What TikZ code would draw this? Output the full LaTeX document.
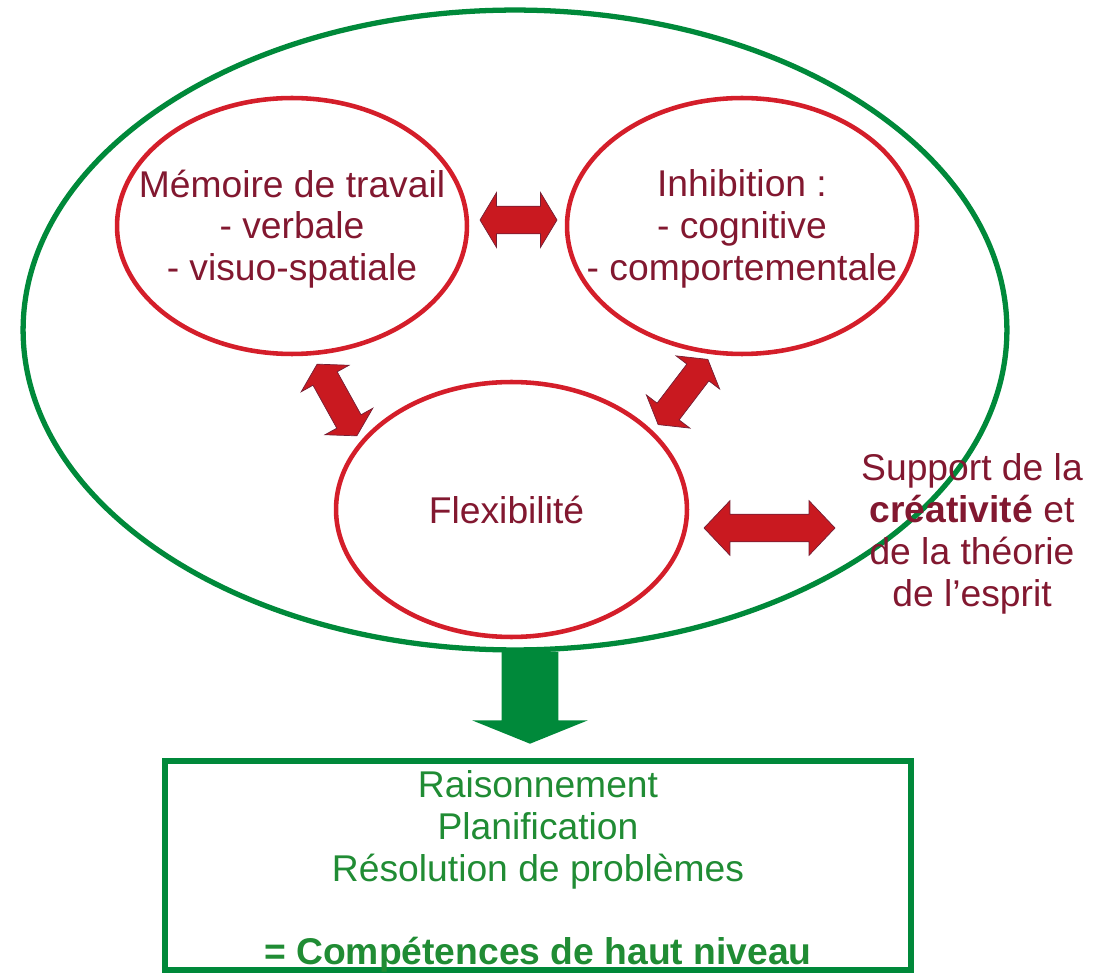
\documentclass[tikz,border=0pt]{standalone}
\usepackage{fontspec}
\setmainfont{Liberation Sans}
\usepackage{tikz}
\usetikzlibrary{calc,shapes.geometric,shapes.arrows}

\definecolor{ringred}{RGB}{212,30,42}
\definecolor{arrowred}{RGB}{201,25,32}
\definecolor{arrowedge}{RGB}{115,30,52}
\definecolor{textred}{RGB}{130,24,48}
\definecolor{ringgreen}{RGB}{0,137,58}
\definecolor{textgreen}{RGB}{32,140,52}

\begin{document}
\begin{tikzpicture}[x=0.02cm,y=-0.02cm,
    ring/.style={ellipse, draw=ringred, line width=2.6pt, inner sep=0pt, minimum width=7cm, minimum height=5.12cm},
    redtext/.style={text=textred, align=center, font=\fontsize{21.2}{23.8}\selectfont},
    greentext/.style={text=textgreen, align=center, font=\fontsize{21.2}{23.8}\selectfont},
    redarrow/.style={double arrow, fill=arrowred, draw=arrowedge, line width=0.4pt, inner xsep=0pt, inner ysep=0.27cm,
      double arrow head extend=0.27cm, double arrow head indent=0pt, double arrow tip angle=118, minimum width=0pt}]
  \useasboundingbox (0,0) rectangle (1110,973);

  %%arrow down to the box
  \node [single arrow, rotate=-90, fill=ringgreen, inner xsep=0pt, inner ysep=0.56cm, single arrow head extend=0.59cm,
    single arrow head indent=0pt, single arrow tip angle=136, minimum height=1.84cm, minimum width=0pt] (down) at (530,692) {};

  %%big ellipse
  \node [ellipse, draw=ringgreen, line width=3pt, inner sep=0pt, minimum width=19.68cm, minimum height=12.8cm] (fe) at (515,330) {};

  %%the three functions
  \node [ring] (mem) at (292,226) {};
  \node [ring] (inh) at (742,226) {};
  \node [ring, minimum width=7.02cm, minimum height=5.1cm] (flex) at (511.5,509.5) {};

  \node [redtext] (memtxt) at ($(mem)+(0,3)$) {Mémoire de travail\\- verbale\\- visuo-spatiale};
  \node [redtext] (inhtxt) at ($(inh)+(0,3)$) {Inhibition :\\- cognitive\\- comportementale};
  \node [redtext] (flextxt) at ($(flex)+(-5,0)$) {Flexibilité};
  \node [redtext] (support) at (972,534) {Support de la\\\textbf{créativité} et\\de la théorie\\de l’esprit};

  %%red arrows
  \node [redarrow, minimum height=1.54cm] (meminh) at (518.5,220) {};
  \node [redarrow, minimum height=1.64cm, rotate=-61] (memflex) at (337,400) {};
  \node [redarrow, minimum height=1.64cm, rotate=52.7] (inhflex) at (683,392) {};
  \node [redarrow, minimum height=2.62cm, double arrow tip angle=93] (flexsup) at (769.5,528) {};

  %%result
  \node [draw=ringgreen, line width=3.6pt, minimum width=14.92cm, minimum height=4.18cm] (box) at (538,865.5) {};
  \node [greentext] (boxtxt) at ($(box)+(0,6)$) {Raisonnement\\Planification\\Résolution de problèmes\\\mbox{}\\\textbf{= Compétences de haut niveau}};

\end{tikzpicture}
\end{document}
